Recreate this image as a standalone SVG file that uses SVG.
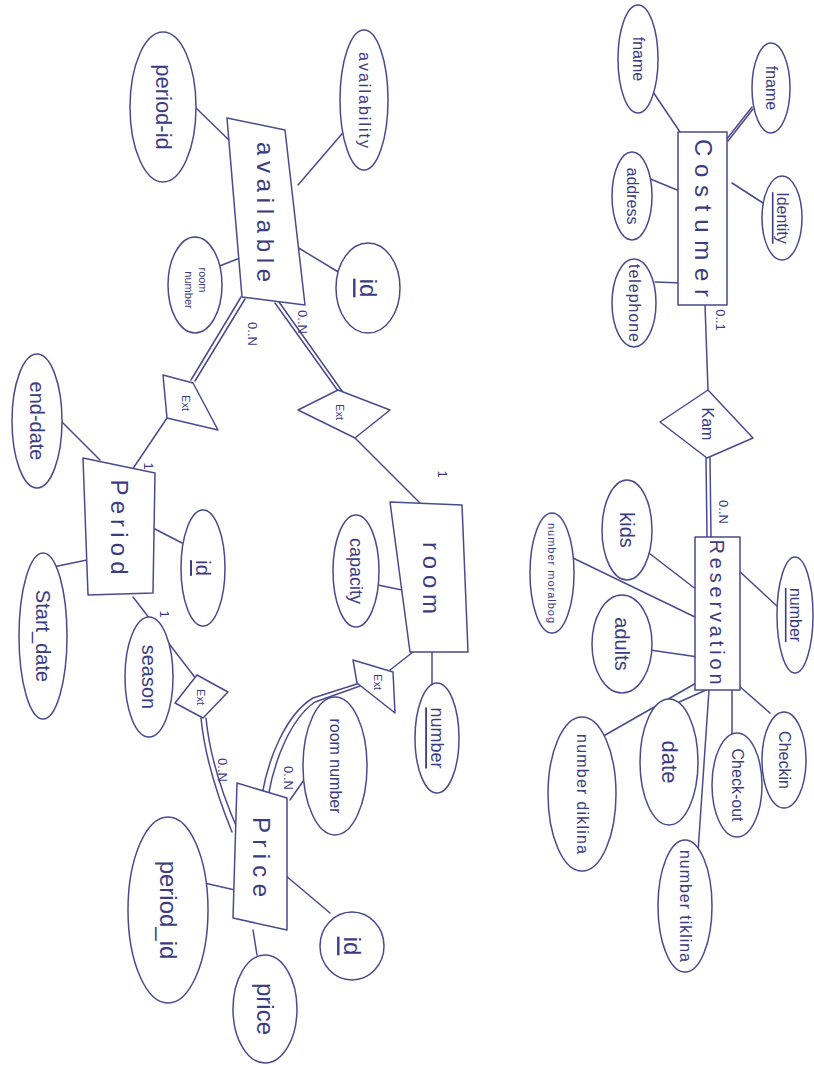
<svg xmlns="http://www.w3.org/2000/svg" width="814" height="1065" viewBox="0 0 814 1065">
<style>
.s{fill:none;stroke:#4a4a8e;stroke-width:1.5;stroke-linejoin:round;stroke-linecap:round}
.b{fill:#fff;stroke:#4a4a8e;stroke-width:1.5;stroke-linejoin:round}
.t{font-family:"Liberation Sans",Arial,sans-serif;fill:#3c3c82;text-anchor:middle;dominant-baseline:central}
.e{font-size:24px}
.a{font-size:16px}
.sm{font-size:11px}
.c{font-size:13px}
</style>
<rect width="814" height="1065" fill="#fff"/>
<g id="connectors">
<path class="s" d="M647,83 L680,132"/>
<path class="s" d="M726,140 L752,107 M728,141 L753,109"/>
<path class="s" d="M648,178 L682,192"/>
<path class="s" d="M732,183 L763,203"/>
<path class="s" d="M655,282 L682,283"/>
<path class="s" d="M705,305 L708,390"/>
<path class="s" d="M706,458 L707,537 M710,458 L711,537"/>
<path class="s" d="M645,550 L697,590"/>
<path class="s" d="M573,558 L697,618"/>
<path class="s" d="M650,650 L698,657"/>
<path class="s" d="M738,570 L778,607"/>
<path class="s" d="M600,738 L698,682"/>
<path class="s" d="M677,703 L706,690"/>
<path class="s" d="M732,737 L732,690"/>
<path class="s" d="M770,713 L738,685"/>
<path class="s" d="M698,852 L709,690"/>
<path class="s" d="M195,107 L232,143"/>
<path class="s" d="M347,128 L298,185"/>
<path class="s" d="M217,267 L240,258"/>
<path class="s" d="M297,247 L340,273"/>
<path class="s" d="M241,297 L191,380 M245,299 L195,381"/>
<path class="s" d="M275,303 L338,391 M279,302 L342,391"/>
<path class="s" d="M167,418 L132,470"/>
<path class="s" d="M60,420 L100,460"/>
<path class="s" d="M153,528 L182,543"/>
<path class="s" d="M53,567 L87,560"/>
<path class="s" d="M133,597 L197,680"/>
<path class="s" d="M201,718 C205,760 219,800 232,832 M206,718 C210,760 224,798 237,828"/>
<path class="s" d="M200,882 L235,890"/>
<path class="s" d="M285,875 L330,913"/>
<path class="s" d="M253,930 L257,955"/>
<path class="s" d="M313,767 L290,800"/>
<path class="s" d="M262,795 C268,760 285,715 313,698 L360,683 M268,797 C274,762 290,719 315,702 L360,686"/>
<path class="s" d="M390,670 L413,652"/>
<path class="s" d="M378,585 L402,590"/>
<path class="s" d="M432,652 L432,685"/>
<path class="s" d="M355,438 L420,503"/>
<text class="t c" transform="translate(720,320) rotate(90)">0..1</text>
<text class="t c" transform="translate(723,512) rotate(90)">0..N</text>
<text class="t c" transform="translate(252,334) rotate(90)">0..N</text>
<text class="t c" transform="translate(302,322) rotate(90)">0..N</text>
<text class="t c" transform="translate(148,466) rotate(90)">1</text>
<text class="t c" transform="translate(442,474) rotate(90)">1</text>
<text class="t c" transform="translate(164,614) rotate(90)">1</text>
<text class="t c" transform="translate(222,770) rotate(90)">0..N</text>
<text class="t c" transform="translate(288,778) rotate(90)">0..N</text>
</g>
<g id="costumer">
<rect class="b" x="678" y="132" width="49" height="173"/>
<text class="t e" transform="translate(703,218) rotate(90)" textLength="158">Costumer</text>
</g>
<g id="costumer-fname1"><ellipse class="b" cx="638" cy="59" rx="20" ry="54"/><text class="t a" transform="translate(638,59) rotate(90)">fname</text></g>
<g id="costumer-fname2"><ellipse class="b" cx="771" cy="88" rx="19" ry="45"/><text class="t a" transform="translate(771,88) rotate(90)">fname</text></g>
<g id="costumer-address"><ellipse class="b" cx="632" cy="196" rx="20" ry="44"/><text class="t a" transform="translate(632,196) rotate(90)">address</text></g>
<g id="costumer-identity"><ellipse class="b" cx="782" cy="218" rx="20" ry="42"/><text class="t a" transform="translate(782,218) rotate(90)" text-decoration="underline">Identity</text></g>
<g id="costumer-telephone"><ellipse class="b" cx="634" cy="303" rx="22" ry="44"/><text class="t a" transform="translate(634,303) rotate(90)" textLength="78">telephone</text></g>
<g id="kam">
<polygon class="b" points="708,390 753,438 707,458 660,422"/>
<text class="t a" transform="translate(707,424) rotate(90)">Kam</text>
</g>
<g id="reservation">
<rect class="b" x="695" y="537" width="45" height="153"/>
<text class="t" style="font-size:20px" transform="translate(717,612) rotate(90)" textLength="145">Reservation</text>
</g>
<g id="res-kids"><ellipse class="b" cx="627" cy="530" rx="25" ry="50"/><text class="t" style="font-size:20px" transform="translate(627,530) rotate(90)">kids</text></g>
<g id="res-number-moralbog"><ellipse class="b" cx="552" cy="573" rx="22" ry="60"/><text class="t sm" transform="translate(552,573) rotate(90)" textLength="100">number moralbog</text></g>
<g id="res-adults"><ellipse class="b" cx="622" cy="644" rx="30" ry="49"/><text class="t" style="font-size:20px" transform="translate(622,644) rotate(90)">adults</text></g>
<g id="res-number"><ellipse class="b" cx="795" cy="615" rx="18" ry="58"/><text class="t a" transform="translate(795,615) rotate(90)" text-decoration="underline">number</text></g>
<g id="res-number-diklina"><ellipse class="b" cx="582" cy="794" rx="34" ry="77"/><text class="t a" transform="translate(582,794) rotate(90)" textLength="120">number diklina</text></g>
<g id="res-date"><ellipse class="b" cx="669" cy="762" rx="29" ry="63"/><text class="t" style="font-size:22px" transform="translate(669,762) rotate(90)">date</text></g>
<g id="res-checkout"><ellipse class="b" cx="737" cy="785" rx="25" ry="52"/><text class="t a" transform="translate(737,785) rotate(90)">Check-out</text></g>
<g id="res-checkin"><ellipse class="b" cx="784" cy="760" rx="22" ry="48"/><text class="t a" transform="translate(784,760) rotate(90)">Checkin</text></g>
<g id="res-number-tiklina"><ellipse class="b" cx="685" cy="906" rx="27" ry="66"/><text class="t a" transform="translate(685,906) rotate(90)" textLength="112">number tiklina</text></g>
<g id="available">
<polygon class="b" points="227,118 285,130 305,305 242,297"/>
<text class="t e" transform="translate(265,212) rotate(90)" textLength="140">available</text>
</g>
<g id="av-period-id"><ellipse class="b" cx="163" cy="107" rx="33" ry="75"/><text class="t" style="font-size:22px" transform="translate(163,107) rotate(90)">period-id</text></g>
<g id="av-availability"><ellipse class="b" cx="364" cy="100" rx="24" ry="70"/><text class="t a" transform="translate(364,100) rotate(90)" textLength="96">availability</text></g>
<g id="av-room-number"><ellipse class="b" cx="195" cy="285" rx="27" ry="48"/><text class="t sm" transform="translate(203,280) rotate(90)">room</text><text class="t sm" transform="translate(189,290) rotate(90)">number</text></g>
<g id="av-id"><ellipse class="b" cx="368" cy="288" rx="32" ry="45"/><text class="t" style="font-size:24px" transform="translate(368,288) rotate(90)" text-decoration="underline">id</text></g>
<g id="ext-available-period"><polygon class="b" points="163,375 193,383 218,430 167,418"/><text class="t sm" transform="translate(186,403) rotate(90)">Ext</text></g>
<g id="ext-available-room"><polygon class="b" points="298,410 338,390 390,410 355,438"/><text class="t sm" transform="translate(340,412) rotate(90)">Ext</text></g>
<g id="period">
<polygon class="b" points="83,458 155,473 153,593 88,595"/>
<text class="t e" transform="translate(119,527) rotate(90)" textLength="95">Period</text>
</g>
<g id="per-end-date"><ellipse class="b" cx="37" cy="421" rx="25" ry="67"/><text class="t" style="font-size:20px" transform="translate(37,421) rotate(90)">end-date</text></g>
<g id="per-id"><ellipse class="b" cx="203" cy="568" rx="22" ry="58"/><text class="t" style="font-size:20px" transform="translate(203,568) rotate(90)" text-decoration="underline">id</text></g>
<g id="per-start-date"><ellipse class="b" cx="43" cy="636" rx="24" ry="83"/><text class="t" style="font-size:20px" transform="translate(43,636) rotate(90)">Start_date</text></g>
<g id="per-season"><ellipse class="b" cx="149" cy="677" rx="24" ry="60"/><text class="t" style="font-size:20px" transform="translate(149,677) rotate(90)">season</text></g>
<g id="ext-period-price"><polygon class="b" points="175,703 197,675 228,692 203,718"/><text class="t sm" transform="translate(201,697) rotate(90)">Ext</text></g>
<g id="room">
<polygon class="b" points="390,502 462,505 468,652 410,652"/>
<text class="t e" transform="translate(431,578) rotate(90)" textLength="72">room</text>
</g>
<g id="room-capacity"><ellipse class="b" cx="356" cy="571" rx="23" ry="56"/><text class="t" style="font-size:18px" transform="translate(356,571) rotate(90)">capacity</text></g>
<g id="room-number"><ellipse class="b" cx="437" cy="738" rx="22" ry="55"/><text class="t" style="font-size:18px" transform="translate(437,738) rotate(90)" text-decoration="underline">number</text></g>
<g id="ext-room-price"><polygon class="b" points="353,660 393,672 395,713 357,683"/><text class="t sm" transform="translate(378,682) rotate(90)">Ext</text></g>
<g id="price">
<polygon class="b" points="237,783 287,798 287,930 233,918"/>
<text class="t e" transform="translate(261,857) rotate(90)" textLength="80">Price</text>
</g>
<g id="price-period-id"><ellipse class="b" cx="168" cy="910" rx="40" ry="93"/><text class="t" style="font-size:24px" transform="translate(168,910) rotate(90)">period_id</text></g>
<g id="price-id"><ellipse class="b" cx="352" cy="946" rx="32" ry="34"/><text class="t" style="font-size:24px" transform="translate(352,946) rotate(90)" text-decoration="underline">id</text></g>
<g id="price-price"><ellipse class="b" cx="265" cy="1009" rx="32" ry="54"/><text class="t" style="font-size:24px" transform="translate(265,1009) rotate(90)">price</text></g>
<g id="price-room-number"><ellipse class="b" cx="335" cy="766" rx="32" ry="69"/><text class="t a" transform="translate(335,766) rotate(90)">room number</text></g>
</svg>
